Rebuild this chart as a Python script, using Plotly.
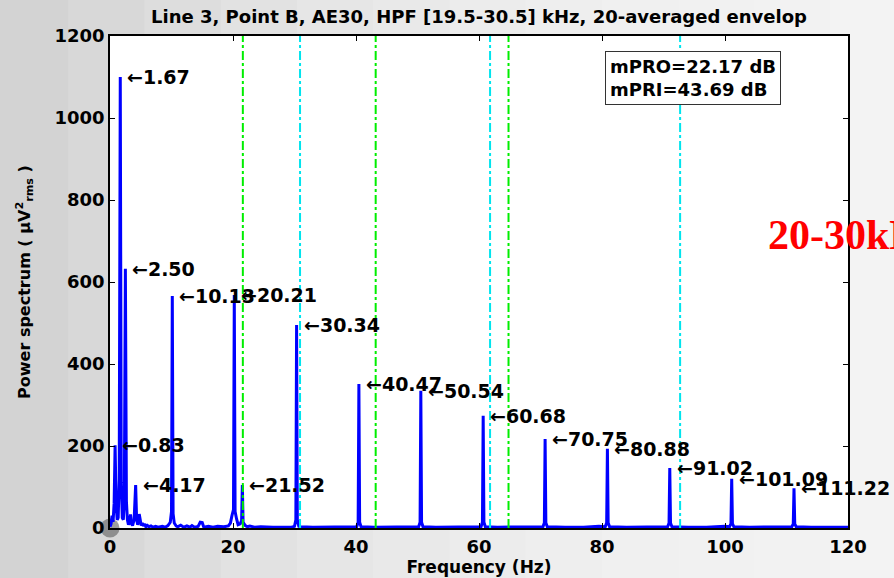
import plotly.graph_objects as go

# ---- data -------------------------------------------------------------
# envelope power spectrum (frequency in Hz, power in uV^2 rms)
spectrum_hz = [
    0.00, 0.17, 0.33, 0.50, 0.67, 0.83, 1.00, 1.17, 1.33, 1.50, 1.67, 1.83,
    2.00, 2.17, 2.33, 2.50, 2.67, 2.83, 3.00, 3.17, 3.33, 3.50, 3.67, 3.92,
    4.17, 4.33, 4.50, 4.62, 4.75, 4.92, 5.08, 5.25, 5.42, 5.67, 5.83, 6.08,
    6.33, 6.67, 7.00, 7.42, 7.83, 8.50, 9.00, 9.42, 9.80, 10.00, 10.13, 10.26,
    10.45, 10.75, 11.00, 11.50, 12.00, 12.50, 13.00, 13.33, 13.75, 14.33, 14.67, 15.00,
    15.25, 16.00, 16.75, 17.50, 18.50, 19.25, 19.58, 19.83, 20.08, 20.21, 20.34, 20.58,
    20.83, 21.17, 21.40, 21.52, 21.64, 22.00, 22.33, 22.75, 23.50, 24.50, 25.50, 26.50,
    27.50, 28.50, 29.50, 30.00, 30.22, 30.34, 30.46, 30.70, 31.00, 33.00, 35.00, 37.00,
    39.00, 40.12, 40.35, 40.47, 40.59, 40.82, 43.00, 46.00, 49.00, 50.19, 50.42, 50.54,
    50.66, 50.89, 53.00, 56.00, 59.00, 60.33, 60.56, 60.68, 60.80, 61.03, 63.00, 66.00,
    69.00, 70.40, 70.63, 70.75, 70.87, 71.10, 74.00, 77.00, 79.50, 80.53, 80.76, 80.88,
    81.00, 81.23, 84.00, 87.00, 90.00, 90.67, 90.90, 91.02, 91.14, 91.37, 94.00, 97.00,
    100.00, 100.74, 100.97, 101.09, 101.21, 101.44, 104.00, 107.00, 110.00, 110.87, 111.10, 111.22,
    111.34, 111.57, 114.00, 117.00, 120.00,
]
spectrum_pw = [
    3, 10, 30, 15, 60, 202, 55, 20, 25, 120, 1100, 110,
    25, 20, 70, 632, 65, 20, 8, 14, 33, 10, 6, 20,
    105, 20, 8, 14, 34, 14, 6, 12, 5, 10, 3, 6,
    3, 5, 2, 4, 2, 4, 2, 6, 14, 40, 566, 35,
    12, 5, 3, 7, 2, 5, 2, 6, 2, 4, 14, 13,
    2, 4, 2, 4, 3, 5, 12, 30, 45, 568, 40, 22,
    8, 10, 18, 105, 14, 6, 3, 5, 2, 3, 2, 2,
    2, 2, 2, 4, 20, 495, 20, 4, 3, 2, 2, 2,
    2, 3, 14, 351, 14, 3, 2, 2, 2, 3, 14, 335,
    14, 3, 2, 2, 2, 3, 14, 274, 14, 3, 2, 2,
    2, 3, 13, 217, 13, 3, 2, 2, 4, 3, 13, 193,
    13, 3, 2, 2, 2, 3, 12, 146, 12, 3, 2, 2,
    4, 3, 11, 120, 11, 3, 2, 2, 2, 3, 10, 97,
    10, 3, 2, 2, 2,
]

# labelled peaks
peak_hz = [0.83, 1.67, 2.50, 4.17, 10.13, 20.21, 21.52, 30.34, 40.47,
           50.54, 60.68, 70.75, 80.88, 91.02, 101.09, 111.22]
peak_pw = [202, 1100, 632, 105, 566, 568, 105, 495, 351,
           335, 274, 217, 193, 146, 120, 97]
peak_text = ["0.83", "1.67", "2.50", "4.17", "10.13", "20.21", "21.52", "30.34", "40.47",
             "50.54", "60.68", "70.75", "80.88", "91.02", "101.09", "111.22"]

# harmonic marker lines
green_lines_hz = [21.6, 43.2, 64.8]
cyan_lines_hz = [30.9, 61.8, 92.7]

x_ticks = [0, 20, 40, 60, 80, 100, 120]
y_ticks = [0, 200, 400, 600, 800, 1000, 1200]

title_text = "Line 3, Point B, AE30, HPF [19.5-30.5] kHz, 20-averaged envelop"
metric_text = "mPRO=22.17 dB<br>mPRI=43.69 dB"
band_text = "20-30kHz"

FONT = "DejaVu Sans"
Y_MAX = 1200

fig = go.Figure()

# grey dot sitting on the origin
fig.add_trace(go.Scatter(
    x=[0], y=[0], mode="markers", cliponaxis=False, hoverinfo="skip",
    marker=dict(size=19, color="rgba(105,105,105,0.65)", line=dict(width=0)),
))

fig.add_trace(go.Scatter(
    x=spectrum_hz, y=spectrum_pw, mode="lines",
    line=dict(color="#0000ff", width=3),
))

for xs, col in ((green_lines_hz, "#00ee00"), (cyan_lines_hz, "#00e5ee")):
    for xv in xs:
        fig.add_trace(go.Scatter(
            x=[xv, xv], y=[0, Y_MAX], mode="lines", hoverinfo="skip",
            line=dict(color=col, width=2, dash="dashdot"),
        ))

for f, p, t in zip(peak_hz, peak_pw, peak_text):
    fig.add_annotation(
        x=f, y=p, text="\u2190" + t, showarrow=False,
        xanchor="left", yanchor="middle", xshift=5,
        font=dict(family=FONT, size=19, color="black", weight="bold"),
    )

# metrics box
fig.add_annotation(
    xref="paper", yref="paper", x=0.6707, y=0.9695,
    xanchor="left", yanchor="top", text=metric_text, showarrow=False,
    align="left", bgcolor="white", bordercolor="#333333", borderwidth=1, borderpad=4,
    font=dict(family=FONT, size=18, color="black", weight="bold"),
)

# band caption, running off the right edge
fig.add_annotation(
    xref="paper", yref="paper", x=0.889, y=0.5955,
    xanchor="left", yanchor="middle", text=band_text, showarrow=False,
    font=dict(family="Liberation Serif", size=42, color="#ff0000", weight="bold"),
)

# soft grey backdrop behind the axes
grad = ["#d3d3d3", "#d8d8d8", "#dddddd", "#e2e2e2", "#e6e6e6", "#e9e9e9",
        "#ececec", "#eeeeee", "#f0f0f0", "#f1f1f1", "#f2f2f2", "#f3f3f3"]
x0p, x1p = -0.16, 1.08
n = len(grad)
shapes = []
for i, c in enumerate(grad):
    a = x0p + (x1p - x0p) * i / n
    b = x0p + (x1p - x0p) * (i + 1) / n + 0.002
    shapes.append(dict(type="rect", xref="paper", yref="paper", x0=a, x1=b,
                       y0=-0.12, y1=1.09, fillcolor=c, line=dict(width=0), layer="below"))
shapes.append(dict(type="rect", xref="paper", yref="paper", x0=0, x1=1, y0=0, y1=1,
                   fillcolor="white", line=dict(width=0), layer="below"))

axis_common = dict(
    showgrid=False, zeroline=False, showline=True, linecolor="black", linewidth=1.5,
    mirror="ticks", ticks="inside", ticklen=5, tickwidth=1, tickcolor="black",
    automargin=False,
    tickfont=dict(family=FONT, size=18, color="black", weight="bold"),
)

fig.update_layout(
    width=894, height=578,
    margin=dict(l=110, r=46, t=36, b=50),
    paper_bgcolor="#ececec", plot_bgcolor="white",
    showlegend=False,
    shapes=shapes,
    title=dict(text=title_text, x=0.5, xref="paper", xanchor="center",
               y=1 - 17 / 578, yanchor="middle",
               font=dict(family=FONT, size=18, color="black", weight="bold")),
    xaxis=dict(range=[0, 120], tickvals=x_ticks, ticklabelstandoff=2,
               title=dict(text="Frequency (Hz)", standoff=1,
                          font=dict(family=FONT, size=17, color="black", weight="bold")),
               **axis_common),
    yaxis=dict(range=[0, Y_MAX], tickvals=y_ticks, ticklabelstandoff=0,
               title=dict(text="Power spectrum ( \u03bcV<sup>2</sup><sub>rms</sub> )", standoff=20,
                          font=dict(family=FONT, size=16, color="black", weight="bold")),
               **axis_common),
)

fig.write_html("out.html")
